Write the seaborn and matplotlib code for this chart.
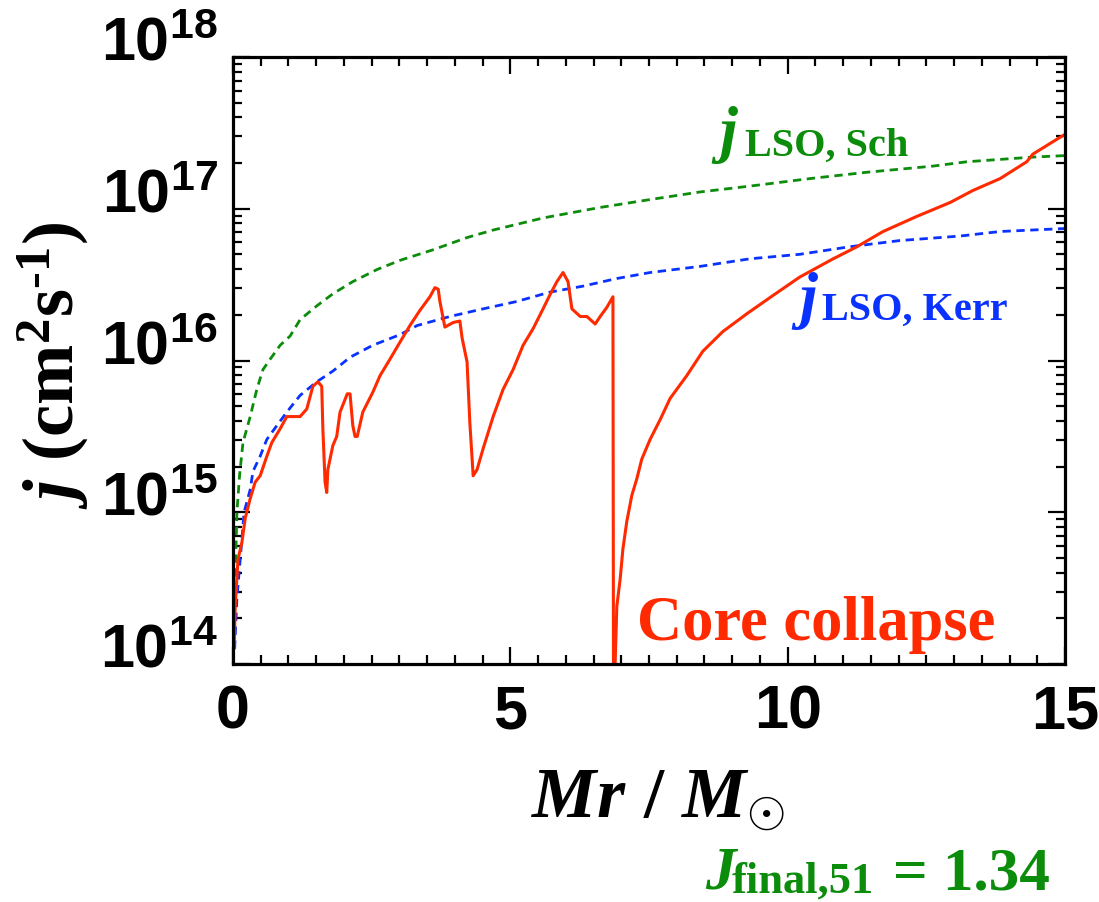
import matplotlib
matplotlib.use("Agg")
import matplotlib.pyplot as plt
import seaborn as sns
import pandas as pd
from matplotlib.ticker import MultipleLocator, LogLocator, NullFormatter
from matplotlib.transforms import ScaledTranslation

# ---------------- data ----------------
mass_sch = [0.02, 0.05, 0.07, 0.12, 0.18, 0.31, 0.43, 0.54, 0.67, 0.85,
            1.03, 1.21, 1.51, 1.80, 2.16, 2.60, 3.01, 3.61, 4.22, 4.69,
            5.6, 6.62, 7.52, 8.42, 9.32, 10.40, 11.43, 12.62, 13.23, 14.42, 15.0]
j_sch = [2.0e14, 5.0e14, 1.0e15, 1.78e15, 2.88e15, 4.27e15, 6.46e15, 8.71e15, 1.02e16, 1.26e16,
         1.45e16, 1.86e16, 2.29e16, 2.75e16, 3.31e16, 3.98e16, 4.57e16, 5.37e16, 6.46e16, 7.24e16,
         8.71e16, 1.02e17, 1.15e17, 1.29e17, 1.41e17, 1.58e17, 1.74e17, 1.91e17, 2.04e17, 2.19e17, 2.24e17]

mass_kerr = [0.03, 0.07, 0.16, 0.20, 0.31, 0.36, 0.49, 0.61, 0.79, 0.97,
             1.21, 1.51, 1.80, 2.11, 2.52, 3.01, 3.32, 3.91, 4.51, 5.12,
             5.71, 6.31, 6.92, 7.52, 8.42, 9.32, 10.22, 11.12, 12.02, 13.11, 13.83, 15.0]
j_kerr = [1.26e14, 2.69e14, 6.61e14, 1.0e15, 1.41e15, 1.86e15, 2.34e15, 3.02e15, 3.72e15, 4.57e15,
          5.89e15, 7.24e15, 8.51e15, 1.05e16, 1.26e16, 1.48e16, 1.70e16, 1.95e16, 2.19e16, 2.45e16,
          2.82e16, 3.09e16, 3.47e16, 3.80e16, 4.17e16, 4.68e16, 5.01e16, 5.62e16, 6.17e16, 6.61e16, 7.08e16, 7.41e16]

mass_core = [0.02, 0.04, 0.09, 0.16, 0.22, 0.31, 0.40, 0.49, 0.61, 0.70, 0.85, 0.97,
             1.21, 1.33, 1.44, 1.53, 1.60, 1.62, 1.66, 1.69, 1.71, 1.80,
             1.87, 1.93, 2.06, 2.11, 2.16, 2.20, 2.24, 2.34, 2.52, 2.65,
             2.83, 3.01, 3.19, 3.37, 3.55, 3.64, 3.70, 3.73, 3.82, 3.97,
             4.09, 4.13, 4.22, 4.27, 4.33, 4.40, 4.51, 4.69, 4.87, 5.05,
             5.23, 5.41, 5.59, 5.71, 5.84, 5.95, 6.04, 6.11, 6.26, 6.38,
             6.53, 6.62, 6.74, 6.85, 6.86,
             6.89, 6.92, 6.98, 7.03, 7.10, 7.19, 7.28, 7.37, 7.52, 7.70,
             7.88, 8.18, 8.47, 8.83, 9.27, 9.74, 10.22, 10.82, 11.25, 11.72,
             12.33, 12.93, 13.34, 13.83, 14.31, 14.42, 14.86, 15.0]
j_core = [1.26e14, 2.40e14, 4.90e14, 6.31e14, 9.12e14, 1.23e15, 1.58e15, 1.74e15, 2.34e15, 2.88e15, 3.55e15, 4.27e15,
          4.27e15, 4.79e15, 6.76e15, 7.24e15, 6.76e15, 3.55e15, 1.58e15, 1.35e15, 1.91e15, 2.75e15,
          3.16e15, 4.57e15, 6.03e15, 6.03e15, 3.72e15, 3.16e15, 3.16e15, 4.57e15, 6.17e15, 7.94e15,
          1.02e16, 1.32e16, 1.70e16, 2.14e16, 2.63e16, 3.02e16, 2.95e16, 2.45e16, 1.66e16, 1.78e16,
          1.82e16, 1.41e16, 9.77e15, 3.89e15, 1.74e15, 1.91e15, 2.63e15, 4.27e15, 6.46e15, 8.71e15,
          1.26e16, 1.62e16, 2.19e16, 2.69e16, 3.31e16, 3.80e16, 3.31e16, 2.19e16, 1.95e16, 1.95e16,
          1.74e16, 1.95e16, 2.24e16, 2.63e16, 6.3e13,
          1.02e14, 2.40e14, 3.63e14, 5.75e14, 8.71e14, 1.29e15, 1.66e15, 2.24e15, 3.02e15, 4.07e15,
          5.62e15, 7.94e15, 1.15e16, 1.55e16, 2.04e16, 2.69e16, 3.55e16, 4.68e16, 5.62e16, 7.08e16,
          8.91e16, 1.10e17, 1.32e17, 1.58e17, 2.04e17, 2.29e17, 2.88e17, 3.09e17]

x_ticks = [0, 5, 10, 15]
x_ticklabels = ["0", "5", "10", "15"]
y_ticks = [1e14, 1e15, 1e16, 1e17, 1e18]
y_ticklabels = [r"$\mathsf{10^{14}}$", r"$\mathsf{10^{15}}$", r"$\mathsf{10^{16}}$",
                r"$\mathsf{10^{17}}$", r"$\mathsf{10^{18}}$"]

GREEN = "#0b8c0b"
BLUE = "#0a32ff"
RED = "#ff2a00"

# ---------------- style ----------------
sns.set_theme(style="ticks")
plt.rcParams.update({
    "font.family": ["Liberation Serif", "DejaVu Sans"],
    "mathtext.fontset": "custom",
    "mathtext.rm": "Liberation Serif:bold",
    "mathtext.bf": "Liberation Serif:bold",
    "mathtext.it": "Liberation Serif:italic:bold",
    "mathtext.sf": "Liberation Sans:bold",
    "mathtext.default": "it",
    "axes.linewidth": 2.3,
    "text.color": "black",
    "axes.labelcolor": "black",
    "xtick.color": "black",
    "ytick.color": "black",
    "axes.edgecolor": "black",
})

W, H = 1099, 903
fig = plt.figure(figsize=(W / 100, H / 100), dpi=100)
ax = fig.add_axes([233 / W, 1 - 665 / H, (1065 - 233) / W, (665 - 58) / H])

def P(x, y):
    return x / W, 1 - y / H

df_sch = pd.DataFrame({"m": mass_sch, "j": j_sch})
df_kerr = pd.DataFrame({"m": mass_kerr, "j": j_kerr})
df_core = pd.DataFrame({"m": mass_core, "j": j_core})

ax.set_yscale("log")
sns.lineplot(data=df_sch, x="m", y="j", ax=ax, color=GREEN, lw=2.0,
             estimator=None, sort=False)
sns.lineplot(data=df_kerr, x="m", y="j", ax=ax, color=BLUE, lw=2.0,
             estimator=None, sort=False)
sns.lineplot(data=df_core, x="m", y="j", ax=ax, color=RED, lw=2.2,
             estimator=None, sort=False)
ax.lines[0].set_dashes([3, 2])
ax.lines[1].set_dashes([3, 2])

ax.set_xlim(0, 15)
ax.set_ylim(1e14, 1e18)

ax.set_xticks(x_ticks)
ax.set_xticklabels(x_ticklabels, fontfamily="Liberation Sans", fontweight="bold", fontsize=44)
ax.xaxis.set_minor_locator(MultipleLocator(0.5))
ax.set_yticks(y_ticks)
ax.set_yticklabels(y_ticklabels, fontsize=44)
ax.yaxis.set_minor_locator(LogLocator(base=10, subs=[2, 3, 4, 5, 6, 7, 8, 9], numticks=20))
ax.yaxis.set_minor_formatter(NullFormatter())

ax.tick_params(which="both", direction="in", top=True, right=True, width=1.6,
               color="black", labelcolor="black")
ax.tick_params(which="major", length=12)
ax.tick_params(which="minor", length=6.5)
ax.tick_params(axis="x", which="major", pad=14)
ax.tick_params(axis="y", which="major", pad=11)
for lab in ax.get_yticklabels():
    lab.set_transform(lab.get_transform() + ScaledTranslation(0, 0.19, fig.dpi_scale_trans))

for s in ax.spines.values():
    s.set_color("black")
    s.set_linewidth(2.3)

ax.set_xlabel(r"$Mr\ /\ M_{\odot}$", fontsize=52, color="black")
ax.xaxis.label.set_va("baseline")
ax.xaxis.set_label_coords((658 - 233) / 832, (665 - 818) / 607)
ax.set_ylabel("$j\\ (\\mathrm{cm}^{2}\\mathrm{s}^{\u2010\\mathrm{1}})$", fontsize=52, color="black")
ax.yaxis.label.set_va("baseline")
ax.yaxis.set_label_coords((74 - 233) / 832, (665 - 365) / 607)

serif_bi = dict(family="Liberation Serif", weight="bold", style="italic")
serif_b = dict(family="Liberation Serif", weight="bold")

fig.text(*P(719, 150), "j", fontsize=46, color=GREEN, va="baseline", ha="left", **serif_bi)
fig.text(*P(745, 156), "LSO, Sch", fontsize=29, color=GREEN, va="baseline", ha="left", **serif_b)
fig.text(*P(799, 316), "j", fontsize=46, color=BLUE, va="baseline", ha="left", **serif_bi)
fig.text(*P(822, 320), "LSO, Kerr", fontsize=29, color=BLUE, va="baseline", ha="left", **serif_b)
fig.text(*P(637, 640), "Core collapse", fontsize=45, color=RED, va="baseline", ha="left", **serif_b)
fig.text(*P(705, 889), "J", fontsize=44, color=GREEN, va="baseline", ha="left", **serif_bi)
fig.text(*P(732, 893), "final,51", fontsize=32, color=GREEN, va="baseline", ha="left", **serif_b)
fig.text(*P(893, 890), "= 1.34", fontsize=44, color=GREEN, va="baseline", ha="left", **serif_b)

fig.savefig("out.png", dpi=100, facecolor="white")
